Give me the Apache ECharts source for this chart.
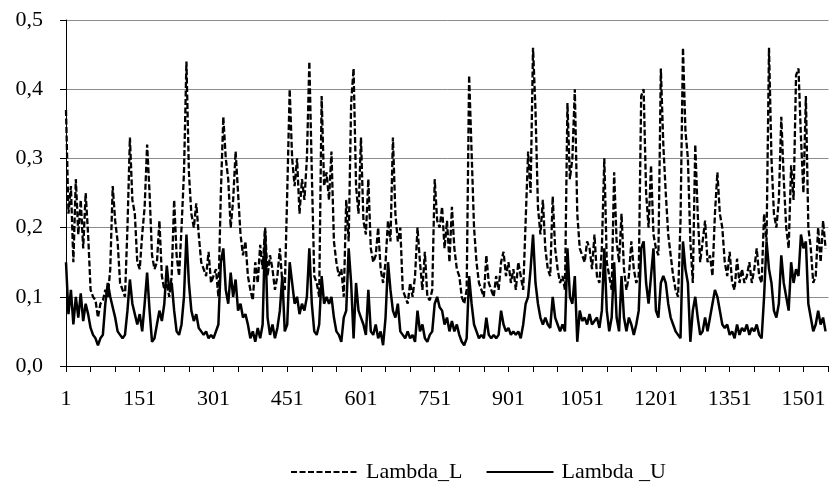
<!DOCTYPE html>
<html>
<head>
<meta charset="utf-8">
<script src="https://cdn.jsdelivr.net/npm/echarts@6/dist/echarts.min.js"></script>
<style>
	html, body { margin: 0; padding: 0; background: #fff; }
	#chart { width: 831px; height: 484px; }
</style>
</head>
<body>
<div id="chart"></div>
<script>
// observation numbers: firstObs, firstObs + step, ...
var firstObs = 1;
var step = 5;
var lastObs = 1552;
var labelEvery = 150;

var lambdaL = [
	0.37, 0.22, 0.26, 0.15, 0.27, 0.19, 0.24, 0.17, 0.25, 0.19,
	0.11, 0.10, 0.095, 0.07, 0.09, 0.095, 0.11, 0.10, 0.14, 0.26,
	0.21, 0.18, 0.12, 0.11, 0.10, 0.20, 0.33, 0.24, 0.22, 0.15,
	0.14, 0.19, 0.23, 0.32, 0.25, 0.16, 0.14, 0.15, 0.21, 0.13,
	0.11, 0.12, 0.10, 0.13, 0.24, 0.16, 0.13, 0.20, 0.28,
	0.44, 0.28, 0.22, 0.20, 0.235, 0.19, 0.15, 0.14, 0.13, 0.165, 0.12,
	0.13, 0.14, 0.10, 0.25, 0.36, 0.30, 0.27, 0.20, 0.24, 0.31,
	0.25, 0.19, 0.16, 0.18, 0.13, 0.11, 0.095, 0.15, 0.12, 0.175,
	0.14, 0.20, 0.13, 0.16, 0.14, 0.11, 0.13, 0.17, 0.12, 0.11,
	0.25, 0.40, 0.30, 0.26, 0.30, 0.22, 0.27, 0.24, 0.30, 0.44,
	0.28, 0.13, 0.12, 0.10, 0.39, 0.26, 0.28, 0.24, 0.31, 0.18,
	0.15, 0.13, 0.14, 0.10, 0.24, 0.18, 0.38, 0.43, 0.26, 0.22,
	0.33, 0.21, 0.19, 0.27, 0.17, 0.15, 0.16, 0.20, 0.14, 0.12,
	0.15, 0.21, 0.18, 0.33, 0.22, 0.18, 0.20, 0.11, 0.10, 0.09,
	0.12, 0.10, 0.13, 0.20, 0.15, 0.11, 0.165, 0.10, 0.095, 0.11,
	0.27, 0.21, 0.20, 0.23, 0.17, 0.21, 0.15, 0.23, 0.17, 0.14,
	0.13, 0.10, 0.09, 0.11, 0.42, 0.31, 0.20, 0.15, 0.12, 0.11,
	0.10, 0.16, 0.12, 0.11, 0.10, 0.13, 0.11, 0.15, 0.165, 0.13,
	0.15, 0.12, 0.14, 0.11, 0.15, 0.13, 0.11, 0.21, 0.31, 0.25,
	0.46, 0.37, 0.23, 0.19, 0.24, 0.17, 0.14, 0.13, 0.245, 0.17,
	0.14, 0.12, 0.13, 0.11, 0.38, 0.27, 0.30, 0.40, 0.22, 0.17,
	0.16, 0.15, 0.18, 0.17, 0.14, 0.19, 0.13, 0.12, 0.17, 0.30,
	0.15, 0.13, 0.11, 0.28, 0.18, 0.15, 0.22, 0.14, 0.11, 0.13,
	0.18, 0.14, 0.12, 0.13, 0.39, 0.40, 0.25, 0.20, 0.29, 0.19,
	0.17, 0.16, 0.43, 0.32, 0.25, 0.19, 0.16, 0.13, 0.11, 0.10, 0.21,
	0.46, 0.34, 0.30, 0.18, 0.12, 0.32, 0.22, 0.15, 0.18,
	0.21, 0.15, 0.16, 0.13, 0.22, 0.28, 0.22, 0.20, 0.15, 0.13,
	0.165, 0.12, 0.11, 0.155, 0.12, 0.14, 0.12, 0.13, 0.15, 0.12,
	0.14, 0.17, 0.13, 0.12, 0.22, 0.18, 0.46, 0.30, 0.22, 0.20,
	0.24, 0.36, 0.27, 0.20, 0.17, 0.29, 0.24, 0.42, 0.43, 0.33,
	0.25, 0.39, 0.20, 0.17, 0.12, 0.13, 0.20, 0.15, 0.21, 0.17
];

var lambdaU = [
	0.15, 0.075, 0.11, 0.06, 0.10, 0.07, 0.105, 0.065, 0.09, 0.075,
	0.055, 0.045, 0.04, 0.03, 0.04, 0.045, 0.09, 0.12, 0.10, 0.085,
	0.07, 0.05, 0.045, 0.04, 0.045, 0.08, 0.125, 0.09, 0.075, 0.06,
	0.075, 0.05, 0.09, 0.135, 0.08, 0.035, 0.04, 0.06, 0.08, 0.065,
	0.09, 0.145, 0.11, 0.12, 0.08, 0.05, 0.045, 0.06, 0.10,
	0.19, 0.12, 0.08, 0.065, 0.075, 0.055, 0.05, 0.045, 0.05, 0.04, 0.045,
	0.04, 0.05, 0.06, 0.15, 0.17, 0.11, 0.09, 0.135, 0.10, 0.125,
	0.08, 0.09, 0.07, 0.075, 0.06, 0.04, 0.05, 0.035, 0.055, 0.04,
	0.06, 0.195, 0.07, 0.045, 0.06, 0.04, 0.055, 0.08, 0.13, 0.05,
	0.06, 0.15, 0.12, 0.09, 0.10, 0.075, 0.09, 0.08, 0.10, 0.17,
	0.09, 0.05, 0.045, 0.06, 0.13, 0.09, 0.10, 0.09, 0.10, 0.07,
	0.05, 0.045, 0.035, 0.07, 0.08, 0.17, 0.12, 0.04, 0.12, 0.08,
	0.07, 0.06, 0.045, 0.11, 0.05, 0.045, 0.06, 0.04, 0.05, 0.03,
	0.07, 0.15, 0.11, 0.08, 0.07, 0.09, 0.05, 0.045, 0.04, 0.05,
	0.04, 0.045, 0.035, 0.08, 0.05, 0.06, 0.04, 0.035, 0.045, 0.05,
	0.09, 0.10, 0.085, 0.08, 0.06, 0.07, 0.05, 0.065, 0.05, 0.06,
	0.045, 0.035, 0.03, 0.04, 0.13, 0.09, 0.06, 0.05, 0.04, 0.045,
	0.04, 0.07, 0.045, 0.04, 0.045, 0.04, 0.045, 0.08, 0.06, 0.05,
	0.055, 0.045, 0.05, 0.045, 0.05, 0.04, 0.06, 0.09, 0.10, 0.14,
	0.19, 0.12, 0.09, 0.07, 0.06, 0.07, 0.06, 0.055, 0.10, 0.07,
	0.06, 0.05, 0.06, 0.05, 0.17, 0.10, 0.09, 0.13, 0.035, 0.08,
	0.065, 0.07, 0.06, 0.075, 0.06, 0.065, 0.07, 0.055, 0.08, 0.17,
	0.08, 0.05, 0.07, 0.15, 0.07, 0.05, 0.13, 0.07, 0.05, 0.07,
	0.06, 0.045, 0.06, 0.08, 0.17, 0.18, 0.12, 0.09, 0.13, 0.17,
	0.08, 0.07, 0.12, 0.13, 0.12, 0.09, 0.07, 0.06, 0.05, 0.045, 0.04,
	0.18, 0.14, 0.12, 0.035, 0.08, 0.10, 0.07, 0.045, 0.05,
	0.07, 0.05, 0.07, 0.09, 0.11, 0.10, 0.08, 0.06, 0.055, 0.06,
	0.045, 0.05, 0.04, 0.06, 0.045, 0.055, 0.05, 0.06, 0.045, 0.055,
	0.05, 0.06, 0.045, 0.04, 0.10, 0.18, 0.14, 0.12, 0.08, 0.07,
	0.09, 0.16, 0.12, 0.10, 0.08, 0.15, 0.12, 0.14, 0.13, 0.19,
	0.17, 0.18, 0.09, 0.07, 0.05, 0.06, 0.08, 0.06, 0.07, 0.05
];

var fontName = '"Liberation Serif", "Times New Roman", serif';

// pair each value with its observation offset (obs - 1) so the axis can start at 0
function toPairs(values) {
	var out = [];
	for (var i = 0; i < values.length; i++) {
		out.push([i * step, values[i]]);
	}
	return out;
}

var chart = echarts.init(document.getElementById('chart'));
var option = {
	animation: false,
	backgroundColor: '#fff',
	textStyle: { fontFamily: fontName, color: '#000' },
	grid: { left: 66, right: 0, top: 20, bottom: 118 },
	legend: {
		left: 290,
		top: 461,
		itemWidth: 67,
		itemHeight: 10,
		itemGap: 23,
		padding: 0,
		itemStyle: { opacity: 0 },
		textStyle: { fontFamily: fontName, fontSize: 22, color: '#000', padding: [0, 0, 0, 3] },
		data: ['Lambda_L', 'Lambda _U']
	},
	xAxis: {
		type: 'value',
		min: 0,
		max: lastObs - firstObs,
		interval: 50,
		axisLine: { lineStyle: { color: '#000', width: 1 } },
		axisTick: { show: true, length: 6, lineStyle: { color: '#000' } },
		splitLine: { show: false },
		axisLabel: {
			fontFamily: fontName,
			fontSize: 22,
			color: '#000',
			margin: 22,
			showMaxLabel: false,
			formatter: function(v) {
				return (v % labelEvery === 0) ? String(v + firstObs) : '';
			}
		}
	},
	yAxis: {
		type: 'value',
		min: 0,
		max: 0.5,
		interval: 0.1,
		axisLine: { show: true, lineStyle: { color: '#000', width: 1 } },
		axisTick: { show: true, length: 6, lineStyle: { color: '#000' } },
		splitLine: { show: true, lineStyle: { color: '#8c8c8c', width: 1 } },
		axisLabel: {
			fontFamily: fontName,
			fontSize: 22,
			color: '#000',
			margin: 23,
			formatter: function(v) {
				return v.toFixed(1).replace('.', ',');
			}
		}
	},
	series: [{
		name: 'Lambda_L',
		type: 'line',
		symbol: 'none',
		data: toPairs(lambdaL),
		lineStyle: { color: '#000', width: 2.3, type: [6, 2.5] },
		itemStyle: { color: '#000' }
	}, {
		name: 'Lambda _U',
		type: 'line',
		symbol: 'none',
		data: toPairs(lambdaU),
		lineStyle: { color: '#000', width: 2.5, type: 'solid' },
		itemStyle: { color: '#000' }
	}]
};
chart.setOption(option);
</script>
</body>
</html>
